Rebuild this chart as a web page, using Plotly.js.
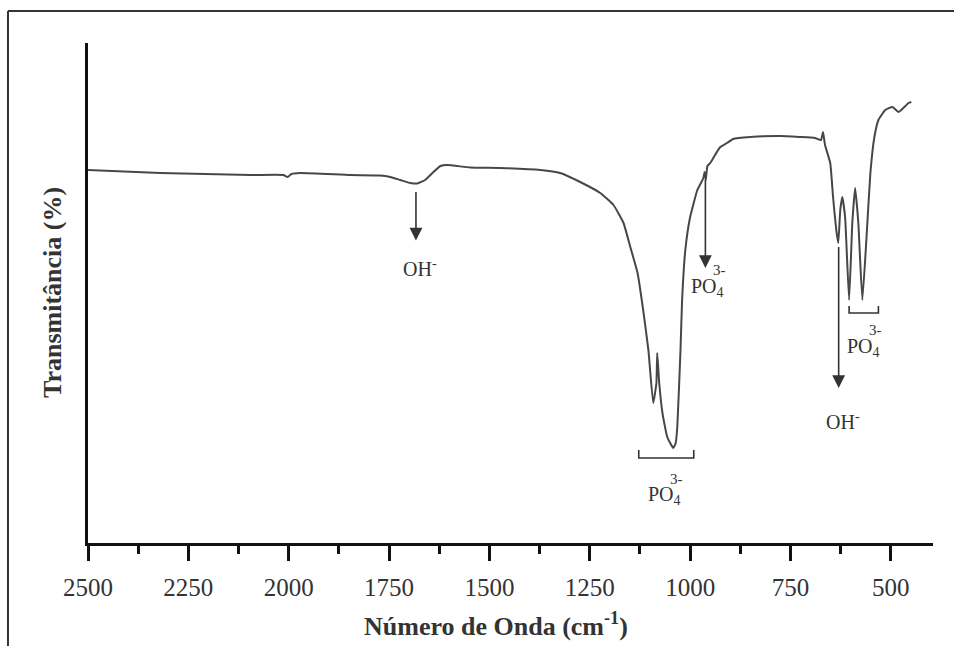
<!DOCTYPE html>
<html>
<head>
<meta charset="utf-8">
<script src="https://cdn.plot.ly/plotly-3.0.1.min.js"></script>
<style>
  html, body { margin: 0; padding: 0; background: #fff; }
  #chart { width: 954px; height: 646px; }
</style>
</head>
<body>
<div id="chart"></div>
<script>
// FTIR spectrum
const wavenumber = [2500, 2320, 2095, 2013, 2003, 1993, 1971, 1846, 1772, 1747, 1722, 1697, 1680, 1660, 1642, 1622, 1605, 1548, 1473, 1373, 1324, 1274, 1224, 1191, 1166, 1149, 1131, 1117, 1104, 1092, 1084, 1082, 1077, 1069, 1057, 1042, 1036, 1032, 1024, 1020, 1012, 1000, 982, 967, 964, 961, 957, 950, 938, 925, 908, 893, 850, 776, 726, 689, 674, 669, 664, 651, 644, 636, 631, 626, 621, 614, 604, 596, 589, 581, 571, 561, 551, 541, 531, 514, 496, 481, 469, 456, 449];
const transmittance = [74.6, 74.0, 73.6, 73.6, 73.2, 73.8, 74.0, 73.6, 73.5, 73.2, 72.6, 72.0, 71.9, 72.6, 74.0, 75.4, 75.6, 75.1, 75.0, 74.6, 74.0, 72.2, 70.0, 67.6, 64.0, 59.2, 54.0, 46.6, 38.6, 28.0, 32.0, 38.0, 32.0, 26.0, 21.2, 19.0, 20.0, 23.2, 38.6, 48.6, 58.6, 65.2, 70.6, 73.0, 74.2, 72.6, 75.4, 76.0, 77.6, 79.2, 80.0, 80.8, 81.2, 81.4, 81.2, 81.0, 80.6, 82.2, 79.6, 76.0, 69.2, 62.6, 60.0, 66.6, 69.2, 65.2, 48.6, 64.0, 71.0, 64.0, 48.6, 60.6, 74.0, 81.2, 84.6, 86.6, 87.2, 86.2, 87.0, 88.0, 88.2];
const tickValues = [2500, 2250, 2000, 1750, 1500, 1250, 1000, 750, 500];
const tickLabels = ['2500', '2250', '2000', '1750', '1500', '1250', '1000', '750', '500'];
const xTitle = '<b>Número de Onda (cm<sup>-1</sup>)</b>';
const yTitle = '<b>Transmitância (%)</b>';

const xRange = [2500, 395];
const yRange = [0, 100];

const serif = 'Liberation Serif, Times New Roman, serif';
const ink = '#333333';

const trace = {
  x: wavenumber,
  y: transmittance,
  type: 'scatter',
  mode: 'lines',
  line: { color: '#474747', width: 2, shape: 'spline', smoothing: 0.4 },
  hoverinfo: 'skip'
};

function arrow(x, yTip, yTail) {
  return {
    x: x, y: yTip, xref: 'x', yref: 'y',
    ax: x, ay: yTail, axref: 'x', ayref: 'y',
    showarrow: true, arrowhead: 2, arrowsize: 1.6, arrowwidth: 1.6,
    arrowcolor: ink, text: ''
  };
}
function label(x, y, text, size, dx, dy) {
  return {
    x: x, y: y, xref: 'x', yref: 'y', text: text, showarrow: false,
    xshift: dx || 0, yshift: dy || 0,
    font: { family: serif, size: size, color: ink }
  };
}
function phosphate(x, y) {
  return [
    label(x, y, 'PO<sub>4</sub>', 20, 0, 0),
    label(x, y, '3-', 15, 12, 17)
  ];
}

const annotations = [
  arrow(1683, 60.5, 70.5),
  label(1683, 55, 'OH<sup>-</sup>', 20, 4, 0),

  arrow(962, 55, 73),
  ...phosphate(958, 51.2),

  arrow(630, 31, 59.5),
  label(630, 24.5, 'OH<sup>-</sup>', 20, 4, 0),

  ...phosphate(1063, 9.5),
  ...phosphate(567, 39.2),

  { xref: 'paper', yref: 'paper', x: 0.483, y: -0.162, yanchor: 'middle', text: xTitle, showarrow: false,
    font: { family: serif, size: 26, color: ink } },
  { xref: 'paper', yref: 'paper', x: -0.0426, y: 0.5, xanchor: 'center', yanchor: 'middle', textangle: -90,
    text: yTitle, showarrow: false, font: { family: serif, size: 26, color: ink } }
];

const shapes = [
  { type: 'path', xref: 'x', yref: 'y', path: 'M 1128 18.6 L 1128 17 L 991 17 L 991 18.6', line: { color: ink, width: 1.6 } },
  { type: 'path', xref: 'x', yref: 'y', path: 'M 604 47.4 L 604 46 L 531 46 L 531 47.4', line: { color: ink, width: 1.6 } },
  // outer frame of the figure
  { type: 'line', xref: 'paper', yref: 'paper', x0: -0.0947, x1: 1.1, y0: 1.064, y1: 1.064, line: { color: ink, width: 2 } },
  { type: 'line', xref: 'paper', yref: 'paper', x0: -0.0947, x1: -0.0947, y0: 1.064, y1: -0.3, line: { color: ink, width: 2 } }
];

const layout = {
  width: 954, height: 646,
  margin: { l: 88, r: 21, t: 43, b: 103 },
  font: { family: serif, color: ink },
  paper_bgcolor: '#ffffff', plot_bgcolor: '#ffffff',
  showlegend: false,
  xaxis: {
    range: xRange, autorange: false,
    tickmode: 'array', tickvals: tickValues, ticktext: tickLabels,
    ticks: 'outside', ticklen: 15, tickwidth: 3, tickcolor: '#111',
    minor: { dtick: 125, tick0: 0, ticks: 'outside', ticklen: 8, tickwidth: 3, tickcolor: '#111', showgrid: false },
    showline: true, linecolor: '#111', linewidth: 3,
    showgrid: false, zeroline: false,
    ticklabelstandoff: 5,
    tickfont: { family: serif, size: 25, color: ink }
  },
  yaxis: {
    range: yRange, autorange: false,
    showticklabels: false, ticks: '',
    showline: true, linecolor: '#111', linewidth: 3,
    showgrid: false, zeroline: false
  },
  annotations: annotations,
  shapes: shapes
};

Plotly.newPlot('chart', [trace], layout, { staticPlot: true, displayModeBar: false });
</script>
</body>
</html>
